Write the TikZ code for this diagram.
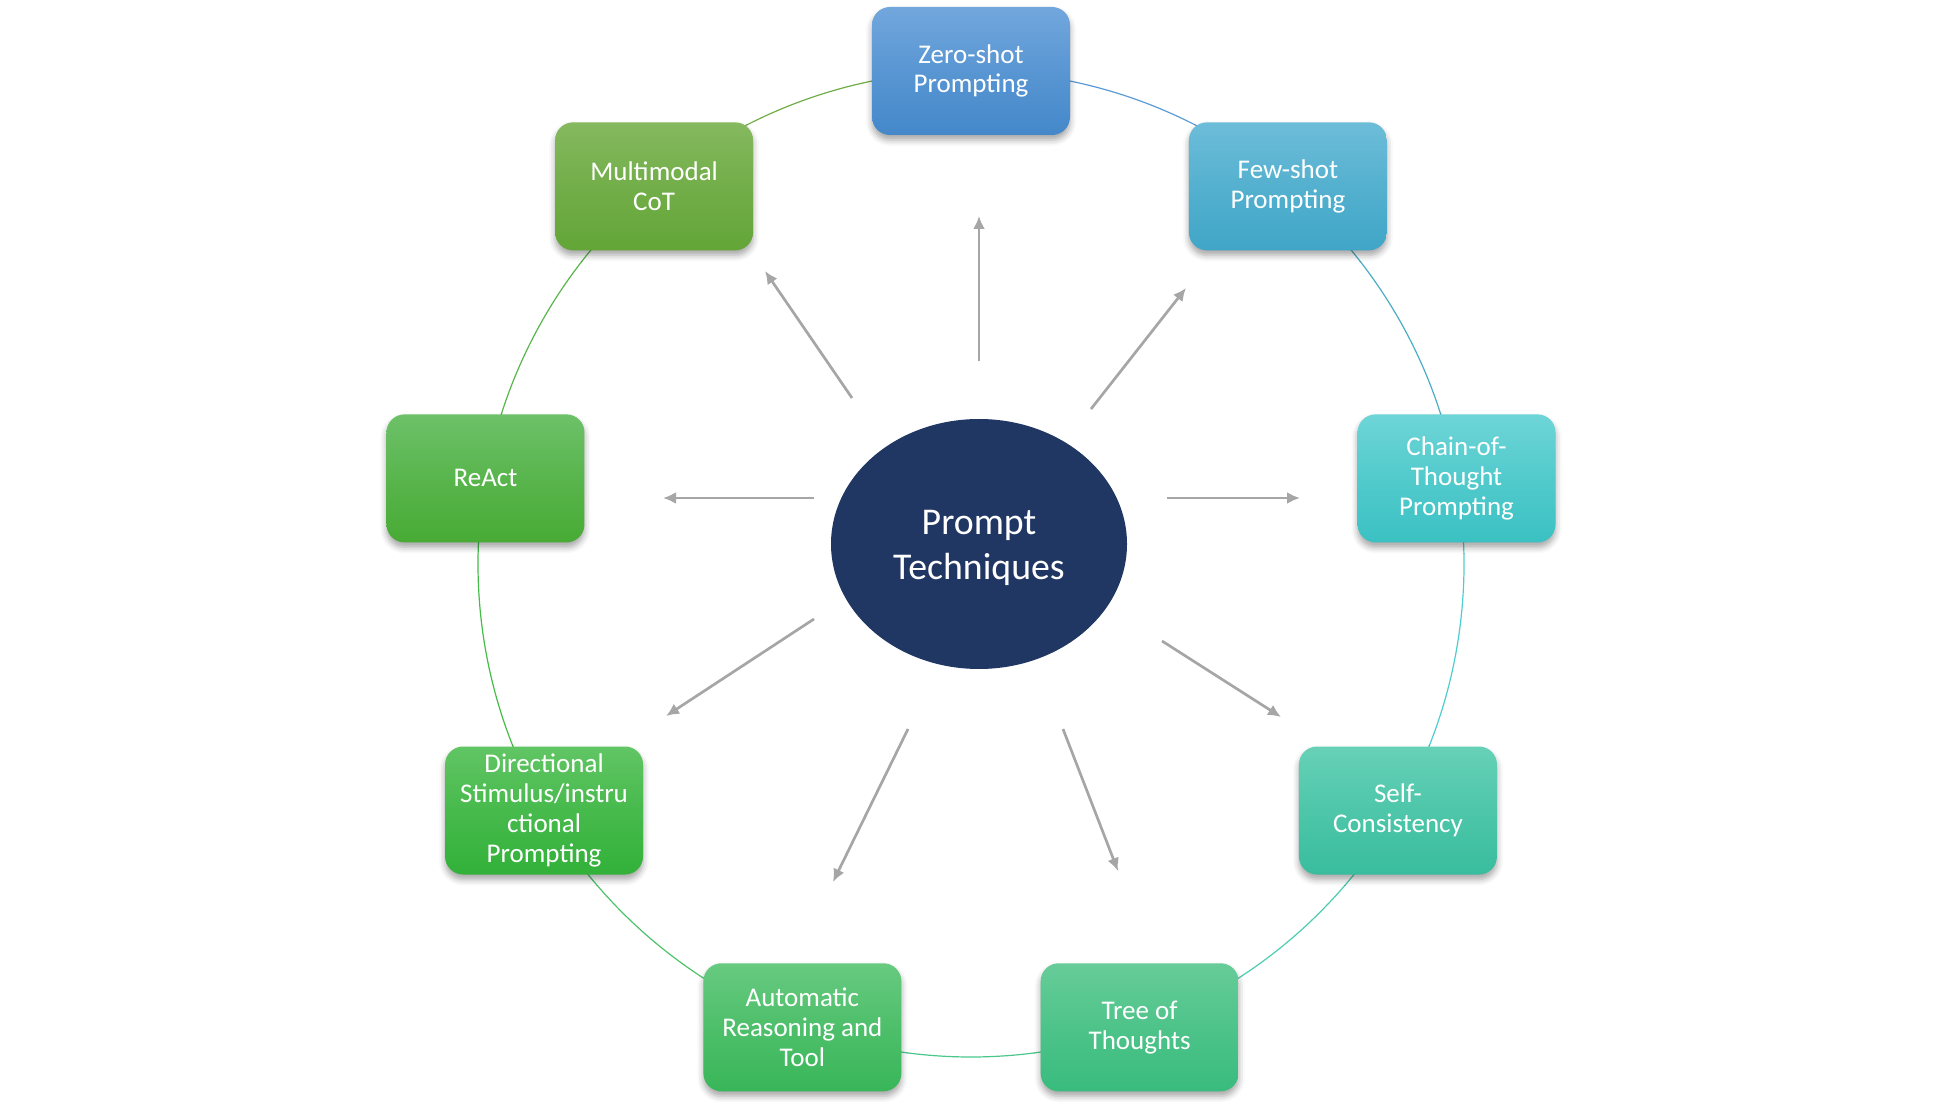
\documentclass[tikz,border=0pt]{standalone}
\usepackage{fontspec}
\setmainfont{Carlito}
\usetikzlibrary{arrows.meta,backgrounds,calc,shapes.geometric,shadows.blur}
\definecolor{zsT}{HTML}{72A7DD}\definecolor{zsB}{HTML}{4488CA}\definecolor{zsL}{HTML}{5B9BD5}
\definecolor{fsT}{HTML}{6DBDD9}\definecolor{fsB}{HTML}{40A6C7}\definecolor{fsL}{HTML}{4BACC6}
\definecolor{ctT}{HTML}{6ED5D7}\definecolor{ctB}{HTML}{3BC1C3}\definecolor{ctL}{HTML}{4ECDD0}
\definecolor{scT}{HTML}{67D1B7}\definecolor{scB}{HTML}{39BD9E}\definecolor{scL}{HTML}{4ECCAE}
\definecolor{tfT}{HTML}{67CC99}\definecolor{tfB}{HTML}{39BC7D}\definecolor{tfL}{HTML}{4AC78A}
\definecolor{arT}{HTML}{67CA80}\definecolor{arB}{HTML}{39B659}\definecolor{arL}{HTML}{4CC36B}
\definecolor{dsT}{HTML}{61C564}\definecolor{dsB}{HTML}{32B139}\definecolor{dsL}{HTML}{44BC48}
\definecolor{raT}{HTML}{6DC169}\definecolor{raB}{HTML}{48AB35}\definecolor{raL}{HTML}{57B64B}
\definecolor{mmT}{HTML}{85B95F}\definecolor{mmB}{HTML}{63A537}\definecolor{mmL}{HTML}{70AD47}
\definecolor{hubcol}{HTML}{213763}
\definecolor{spokecol}{HTML}{A6A6A6}
\newcommand{\boxfont}{\fontsize{13.5}{14.9}\selectfont}
\newcommand{\hubfont}{\fontsize{18.9}{22.3}\selectfont}
\tikzset{
    block/.style = {rectangle, rounded corners=9pt, inner sep=2pt,
        minimum height=64pt, minimum width=99pt,
        text width=94pt, align=flush center, text=white, font=\boxfont,
        blur shadow={shadow xshift=0pt, shadow yshift=-2.5pt,
            shadow blur radius=3pt, shadow opacity=35}},
    grad/.style 2 args = {top color=#1, bottom color=#2, middle color=#1!45!#2},
    hub/.style = {ellipse, fill=hubcol, inner sep=0pt,
        minimum width=148pt, minimum height=125pt,
        align=flush center, text=white, font=\hubfont},
    spoke/.style = {draw=spokecol, line width=1.35pt, ->},
    ring/.style = {line width=0.6pt}
}

\begin{document}
\begin{tikzpicture}[x=0.5pt, y=0.5pt, >={Latex[length=6.5pt,width=6pt]}]
    \useasboundingbox (0,0) rectangle (1942,1104);
    \coordinate (rc) at (971,540);
    \node [hub] (pt) at (979,560) {\rule{0pt}{16pt}Prompt\\Techniques};
    \node [block, grad={zsT}{zsB}] (zs) at ($(rc)+(90:493)$) {Zero-shot\\Prompting};
    \node [block, grad={fsT}{fsB}] (fs) at ($(rc)+(50:493)$) {Few-shot\\Prompting};
    \node [block, grad={ctT}{ctB}] (cot) at ($(rc)+(10:493)$) {Chain-of-\\Thought\\Prompting};
    \node [block, grad={scT}{scB}] (sc) at ($(rc)+(-30:493)$) {Self-\\Consistency};
    \node [block, grad={tfT}{tfB}] (tot) at ($(rc)+(-70:493)$) {Tree of\\Thoughts};
    \node [block, grad={arT}{arB}] (art) at ($(rc)+(-110:493)$) {Automatic\\Reasoning and\\Tool};
    \node [block, grad={dsT}{dsB}] (dsp) at ($(rc)+(-150:493)$) {Directional\\Stimulus/instru\\ctional\\Prompting};
    \node [block, grad={raT}{raB}] (react) at ($(rc)+(170:493)$) {ReAct};
    \node [block, grad={mmT}{mmB}] (mm) at ($(rc)+(130:493)$) {Multimodal\\CoT};
    % cycle
    \begin{scope}[on background layer]
        \draw [ring, zsL] (zs.center) arc [start angle=90, end angle=50, radius=493];
        \draw [ring, fsL] (fs.center) arc [start angle=50, end angle=10, radius=493];
        \draw [ring, ctL] (cot.center) arc [start angle=10, end angle=-30, radius=493];
        \draw [ring, scL] (sc.center) arc [start angle=-30, end angle=-70, radius=493];
        \draw [ring, tfL] (tot.center) arc [start angle=-70, end angle=-110, radius=493];
        \draw [ring, arL] (art.center) arc [start angle=-110, end angle=-150, radius=493];
        \draw [ring, dsL] (dsp.center) arc [start angle=-150, end angle=-190, radius=493];
        \draw [ring, raL] (react.center) arc [start angle=170, end angle=130, radius=493];
        \draw [ring, mmL] (mm.center) arc [start angle=130, end angle=90, radius=493];
    \end{scope}
    % spokes
    \coordinate (s1) at (979,743); \coordinate (e1) at (979,888);
    \coordinate (s2) at (1091,695); \coordinate (e2) at (1186,816);
    \coordinate (s3) at (1167,606); \coordinate (e3) at (1300,606);
    \coordinate (s4) at (1162,463); \coordinate (e4) at (1281,387);
    \coordinate (s5) at (1063,375); \coordinate (e5) at (1118,233);
    \coordinate (s6) at (908,375); \coordinate (e6) at (833,222);
    \coordinate (s7) at (814,485); \coordinate (e7) at (666,388);
    \coordinate (s8) at (814,606); \coordinate (e8) at (663,606);
    \coordinate (s9) at (852,706); \coordinate (e9) at (765,833);
    \draw [spoke] (s1) -- (e1);
    \draw [spoke] (s2) -- (e2);
    \draw [spoke] (s3) -- (e3);
    \draw [spoke] (s4) -- (e4);
    \draw [spoke] (s5) -- (e5);
    \draw [spoke] (s6) -- (e6);
    \draw [spoke] (s7) -- (e7);
    \draw [spoke] (s8) -- (e8);
    \draw [spoke] (s9) -- (e9);
\end{tikzpicture}
\end{document}
